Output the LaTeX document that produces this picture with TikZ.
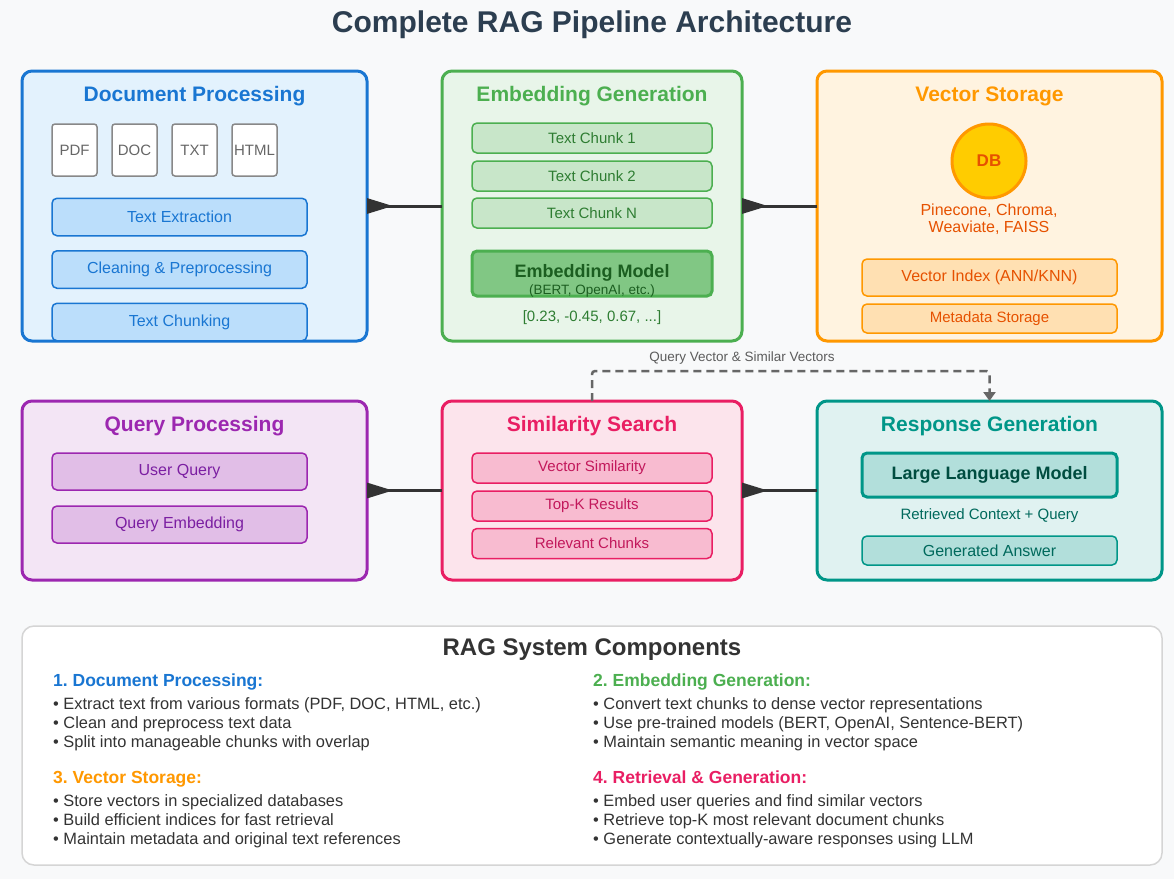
\documentclass[tikz,border=0pt]{standalone}
\usepackage{fontspec}
\setmainfont{Liberation Sans}
\usetikzlibrary{arrows.meta}
\definecolor{bgc}{HTML}{F8F9FA}
\definecolor{titc}{HTML}{2C3E50}
\definecolor{dpB}{HTML}{1976D2}\definecolor{dpF}{HTML}{E3F2FD}\definecolor{dpS}{HTML}{BBDEFB}
\definecolor{egB}{HTML}{4CAF50}\definecolor{egF}{HTML}{E8F5E9}\definecolor{egS}{HTML}{C8E6C9}
\definecolor{egT}{HTML}{2E7D32}\definecolor{egM}{HTML}{81C784}\definecolor{egMT}{HTML}{1B5E20}
\definecolor{vsB}{HTML}{FF9800}\definecolor{vsF}{HTML}{FFF3E0}\definecolor{vsS}{HTML}{FFE0B2}
\definecolor{vsT}{HTML}{E65100}\definecolor{dbF}{HTML}{FFCC00}
\definecolor{qpB}{HTML}{9C27B0}\definecolor{qpF}{HTML}{F3E5F5}\definecolor{qpS}{HTML}{E1BEE7}\definecolor{qpT}{HTML}{7B1FA2}
\definecolor{ssB}{HTML}{E91E63}\definecolor{ssF}{HTML}{FCE4EC}\definecolor{ssS}{HTML}{F8BBD0}\definecolor{ssT}{HTML}{C2185B}
\definecolor{rgB}{HTML}{009688}\definecolor{rgF}{HTML}{E0F2F1}\definecolor{rgS}{HTML}{B2DFDB}\definecolor{rgT}{HTML}{00695C}\definecolor{rgMT}{HTML}{004D40}
\definecolor{connc}{HTML}{333333}
\definecolor{dashc}{HTML}{666666}
\definecolor{filec}{HTML}{888888}
\definecolor{filet}{HTML}{666666}
\definecolor{panelc}{HTML}{D5D5D5}
\definecolor{bodyc}{HTML}{333333}
\newcommand\fsz[1]{\fontsize{#1}{#1}\selectfont}
\frenchspacing
\begin{document}
\begin{tikzpicture}[x=1pt,y=-1pt,
  bigbox/.style={draw, line width=3pt, rounded corners=10pt, outer sep=0pt, inner sep=0pt},
  subbox/.style={draw, line width=1.5pt, rounded corners=5pt, outer sep=0pt, inner sep=0pt},
  filebox/.style={draw=filec, fill=white, line width=1.5pt, rounded corners=3pt, minimum width=45, minimum height=52, inner sep=0pt, text=filet, font=\fsz{15}},
  boxtitle/.style={font=\bfseries\fsz{21}, inner sep=0pt},
  conn/.style={draw=connc, line width=3pt, {Triangle[reversed, length=26pt, width=15pt]}-},
  dconn/.style={draw=dashc, line width=2.5pt, dash pattern=on 8pt off 5pt, rounded corners=3pt, -{Triangle[length=9pt, width=12pt]}},
  sechead/.style={anchor=base west, font=\bfseries\fsz{17.5}, inner sep=0pt},
  bullet/.style={anchor=base west, font=\fsz{16.4}, text=bodyc, inner sep=0pt}
]
\useasboundingbox[fill=bgc] (0,0) rectangle (1174,879);

% title
\node[font=\bfseries\fsz{30}, text=titc, inner sep=0pt] (title) at (592,25) {Complete RAG Pipeline Architecture};

% ---------- Document Processing
\node[bigbox, draw=dpB, fill=dpF, minimum width=345, minimum height=270] (dp) at (194.5,206) {};
\node[boxtitle, text=dpB] (dpt) at (194.5,96) {Document Processing};
\node[filebox] (f1) at (74.5,150) {PDF};
\node[filebox] (f2) at (134.5,150) {DOC};
\node[filebox] (f3) at (194.5,150) {TXT};
\node[filebox] (f4) at (254.5,150) {HTML};
\tikzset{dpsub/.style={subbox, draw=dpB, fill=dpS, text=dpB, font=\fsz{16}, minimum width=255, minimum height=37.5}}
\node[dpsub] (d1) at (179.5,217) {Text Extraction};
\node[dpsub] (d2) at (179.5,269.5) {Cleaning \& Preprocessing};
\node[dpsub] (d3) at (179.5,322) {Text Chunking};

% ---------- Embedding Generation
\node[bigbox, draw=egB, fill=egF, minimum width=300, minimum height=270] (eg) at (592,206) {};
\node[boxtitle, text=egB] (egt) at (592,96) {Embedding Generation};
\tikzset{egsub/.style={subbox, draw=egB, fill=egS, text=egT, font=\fsz{15}, minimum width=240, minimum height=30}}
\node[egsub] (c1) at (592,138) {Text Chunk 1};
\node[egsub] (c2) at (592,176) {Text Chunk 2};
\node[egsub] (c3) at (592,213) {Text Chunk N};
\node[subbox, line width=3pt, draw=egB, fill=egM, minimum width=240, minimum height=45] (em) at (592,273.5) {};
\node[font=\bfseries\fsz{18}, text=egMT, inner sep=0pt] (emt) at (592,273) {Embedding Model};
\node[font=\fsz{13.5}, text=egMT, inner sep=0pt] (ems) at (592,291) {(BERT, OpenAI, etc.)};
\node[font=\fsz{15}, text=egT, inner sep=0pt] (vec) at (592,318) {[0.23, -0.45, 0.67, ...]};

% ---------- Vector Storage
\node[bigbox, draw=vsB, fill=vsF, minimum width=345, minimum height=270] (vs) at (989.5,206) {};
\node[boxtitle, text=vsB] (vst) at (989.5,96) {Vector Storage};
\node[circle, draw=vsB, fill=dbF, line width=3pt, minimum size=74, inner sep=0pt, font=\bfseries\fsz{17}, text=vsT] (db) at (989,161) {DB};
\node[font=\fsz{16}, text=vsT, align=center, inner sep=0pt] (dbn) at (989,219) {Pinecone, Chroma,\\[1pt]Weaviate, FAISS};
\node[subbox, draw=vsB, fill=vsS, text=vsT, font=\fsz{16}, minimum width=255, minimum height=37] (vi) at (989.5,277.5) {Vector Index (ANN/KNN)};
\node[subbox, draw=vsB, fill=vsS, text=vsT, font=\fsz{15}, minimum width=255, minimum height=29] (md) at (989.5,318.5) {Metadata Storage};

% ---------- Query Processing
\node[bigbox, draw=qpB, fill=qpF, minimum width=345, minimum height=179] (qp) at (194.5,490.5) {};
\node[boxtitle, text=qpB] (qpt) at (194.5,426) {Query Processing};
\tikzset{qpsub/.style={subbox, draw=qpB, fill=qpS, text=qpT, font=\fsz{16}, minimum width=255, minimum height=37}}
\node[qpsub] (q1) at (179.5,471.5) {User Query};
\node[qpsub] (q2) at (179.5,524.5) {Query Embedding};

% ---------- Similarity Search
\node[bigbox, draw=ssB, fill=ssF, minimum width=300, minimum height=179] (ss) at (592,490.5) {};
\node[boxtitle, text=ssB] (sst) at (592,426) {Similarity Search};
\tikzset{sssub/.style={subbox, draw=ssB, fill=ssS, text=ssT, font=\fsz{15}, minimum width=240, minimum height=30}}
\node[sssub] (s1) at (592,468) {Vector Similarity};
\node[sssub] (s2) at (592,506) {Top-K Results};
\node[sssub] (s3) at (592,543.5) {Relevant Chunks};

% ---------- Response Generation
\node[bigbox, draw=rgB, fill=rgF, minimum width=345, minimum height=179] (rg) at (989.5,490.5) {};
\node[boxtitle, text=rgB] (rgt) at (989.5,426) {Response Generation};
\node[subbox, line width=3pt, draw=rgB, fill=rgS, text=rgMT, font=\bfseries\fsz{18}, minimum width=255, minimum height=44] (llm) at (989.5,475) {Large Language Model};
\node[font=\fsz{15}, text=rgT, inner sep=0pt] (rc) at (989.5,516) {Retrieved Context + Query};
\node[subbox, draw=rgB, fill=rgS, text=rgT, font=\fsz{16}, minimum width=255, minimum height=29] (ga) at (989.5,550.5) {Generated Answer};

% ---------- connectors
\draw[conn] (dp.east) -- (eg.west);
\draw[conn] (eg.east) -- (vs.west);
\draw[conn] (qp.east) -- (ss.west);
\draw[conn] (ss.east) -- (rg.west);
\draw[dconn] (ss.north) -- ++(0,-30) -| (rg.north);
\node[font=\fsz{13.5}, text=dashc!90!black, inner sep=0pt] (ql) at (742,358) {Query Vector \& Similar Vectors};

% ---------- bottom panel
\node[draw=panelc, fill=white, line width=1.5pt, rounded corners=12pt, minimum width=1140, minimum height=239, inner sep=0pt] (panel) at (592,745.5) {};
\node[font=\bfseries\fsz{24}, text=bodyc, inner sep=0pt] (pt) at (592,650) {RAG System Components};

\node[sechead, text=dpB] (h1) at (53,686.5) {1. Document Processing:};
\node[bullet] (b11) at (53,709.5) {• Extract text from various formats (PDF, DOC, HTML, etc.)};
\node[bullet] (b12) at (53,728.5) {• Clean and preprocess text data};
\node[bullet] (b13) at (53,747.5) {• Split into manageable chunks with overlap};

\node[sechead, text=egB] (h2) at (593,686.5) {2. Embedding Generation:};
\node[bullet] (b21) at (593,709.5) {• Convert text chunks to dense vector representations};
\node[bullet] (b22) at (593,728.5) {• Use pre-trained models (BERT, OpenAI, Sentence-BERT)};
\node[bullet] (b23) at (593,747.5) {• Maintain semantic meaning in vector space};

\node[sechead, text=vsB] (h3) at (53,783.5) {3. Vector Storage:};
\node[bullet] (b31) at (53,806) {• Store vectors in specialized databases};
\node[bullet] (b32) at (53,825) {• Build efficient indices for fast retrieval};
\node[bullet] (b33) at (53,844) {• Maintain metadata and original text references};

\node[sechead, text=ssB] (h4) at (593,783.5) {4. Retrieval \& Generation:};
\node[bullet] (b41) at (593,806) {• Embed user queries and find similar vectors};
\node[bullet] (b42) at (593,825) {• Retrieve top-K most relevant document chunks};
\node[bullet] (b43) at (593,844) {• Generate contextually-aware responses using LLM};
\end{tikzpicture}
\end{document}
